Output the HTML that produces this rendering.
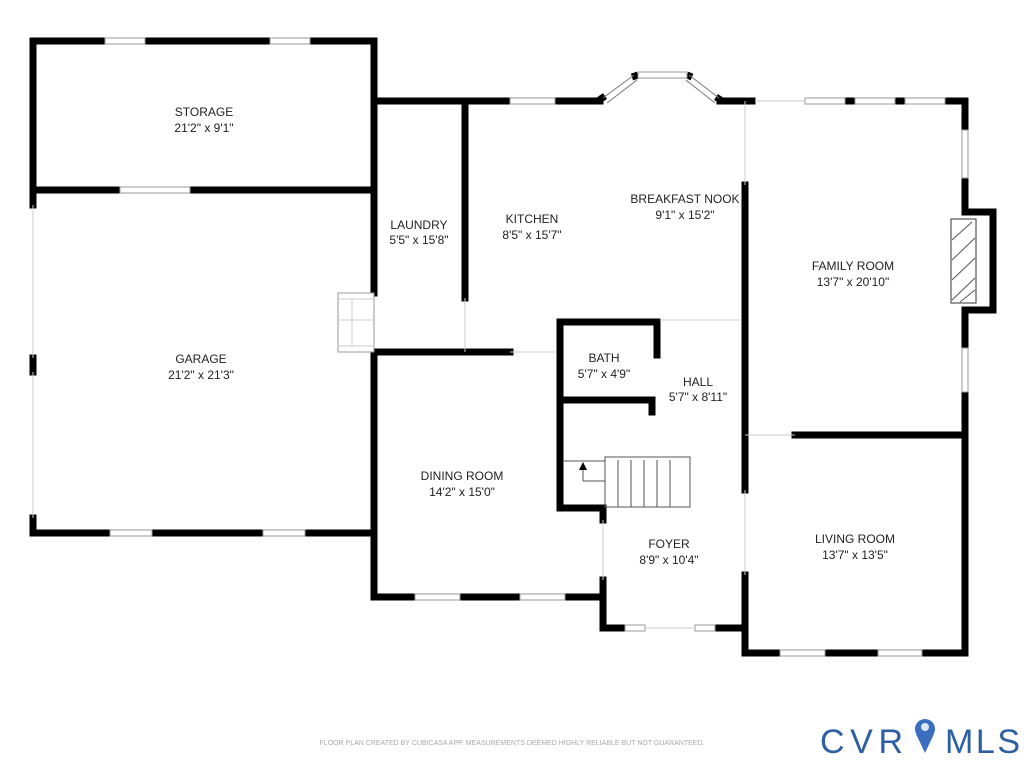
<!DOCTYPE html>
<html><head><meta charset="utf-8"><style>
body{margin:0;background:#fff;width:1024px;height:768px;overflow:hidden}
svg text{font-family:"Liberation Sans",sans-serif;font-size:12px;fill:#222;text-anchor:middle}
</style></head><body>
<svg width="1024" height="768" viewBox="0 0 1024 768">
<g stroke="#000" stroke-width="7" fill="none" stroke-linecap="square">
<path d="M33 190 V41 H105 M145 41 H270 M310 41 H374 V101 M374 101 V190 M33 190 H120 M190 190 H374"/>
<path d="M33 190 V205 M33 358 V372 M33 518 V533 H110 M152 533 H263 M305 533 H374"/>
<path d="M374 190 V293 M374 352 V597 H415 M460 597 H520 M565 597 H603 V628 H625 M715 628 H745"/>
<path d="M374 101 H510 M555 101 H600 M720 101 H752 M947 101 H965 V130 M965 178 V212 M965 310 V348 M965 392 V653 H922 M878 653 H825 M780 653 H745 V575"/>
<path d="M847 101 H853 M897 101 H903"/>
<path d="M965 212 H993 V310 H965"/>
<path d="M465 101 V298 M374 352 H510 M745 185 V435 M745 435 V490 M795 435 H965"/>
<path d="M560 322 V508 H603 V520 M560 322 H657 V355 M560 400 H652 V412 M603 580 V628"/>
</g>
<g stroke="#000" stroke-width="7" stroke-linecap="butt">
<path d="M598 101 L605 96 M632 77 L638 75 M687 75 L692 77 M716 97 L722 101"/>
</g>
<g stroke="#777" stroke-width="1" fill="none">
<path d="M603 98 L634 75 M607 103 L637 80"/>
<path d="M689 75 L719 98 M686 80 L715 103"/>
</g>
<g stroke="#999" stroke-width="1" fill="#fff">
<rect x="105" y="38" width="40" height="6"/><rect x="270" y="38" width="40" height="6"/>
<rect x="120" y="187" width="70" height="6"/>
<rect x="110" y="530" width="42" height="6"/><rect x="263" y="530" width="42" height="6"/>
<rect x="415" y="594" width="45" height="6"/><rect x="520" y="594" width="45" height="6"/>
<rect x="510" y="98" width="45" height="6"/>
<rect x="638" y="72" width="49" height="6"/>
<rect x="805" y="98" width="40" height="6"/><rect x="855" y="98" width="40" height="6"/><rect x="905" y="98" width="40" height="6"/>
<rect x="962" y="130" width="6" height="48"/><rect x="962" y="348" width="6" height="44"/>
<rect x="780" y="650" width="45" height="6"/><rect x="878" y="650" width="44" height="6"/>
<rect x="625" y="625" width="20" height="6"/><rect x="695" y="625" width="20" height="6"/>
<rect x="338" y="293" width="36" height="59"/>
</g>
<g stroke="#ccc" stroke-width="1" fill="none">
<path d="M33 205 V358 M33 372 V518 M510 352 H555 M465 298 V352 M745 101 V185 M745 435 H795 M745 490 V575 M660 320 H740 M755 101 H805 M603 520 V580 M645 628 H695"/>
<path d="M338 299 H374 M338 346 H374 M352 299 V346 M338 320 H374"/>
</g>
<rect x="951" y="219" width="25" height="84" fill="#fff" stroke="#333"/>
<g stroke="#555" stroke-width="1"><path d="M952 240 L972 222 M952 260 L975 238 M952 280 L975 258 M952 300 L975 278 M960 302 L975 290"/></g>
<g stroke="#555" stroke-width="1" fill="none">
<rect x="605" y="457" width="85" height="50"/>
<path d="M618 460V507 M631 460V507 M644 460V507 M657 460V507 M670 460V507 M583 481 V467 M583 481 H605"/>
<path d="M563 461 H605"/>
</g>
<path d="M579 470 L583 462 L587 470Z" fill="#000"/>
<text x="204" y="116">STORAGE</text><text x="204" y="132">21'2" x 9'1"</text>
<text x="201" y="363">GARAGE</text><text x="201" y="379">21'2" x 21'3"</text>
<text x="419" y="229">LAUNDRY</text><text x="419" y="244">5'5" x 15'8"</text>
<text x="532" y="223">KITCHEN</text><text x="532" y="239">8'5" x 15'7"</text>
<text x="685" y="203">BREAKFAST NOOK</text><text x="685" y="219">9'1" x 15'2"</text>
<text x="853" y="270">FAMILY ROOM</text><text x="853" y="286">13'7" x 20'10"</text>
<text x="604" y="362">BATH</text><text x="604" y="378">5'7" x 4'9"</text>
<text x="698" y="386">HALL</text><text x="698" y="401">5'7" x 8'11"</text>
<text x="462" y="480">DINING ROOM</text><text x="462" y="496">14'2" x 15'0"</text>
<text x="669" y="548">FOYER</text><text x="669" y="564">8'9" x 10'4"</text>
<text x="855" y="543">LIVING ROOM</text><text x="855" y="559">13'7" x 13'5"</text>
<text x="512" y="745" style="font-size:7px;fill:#aaa">FLOOR PLAN CREATED BY CUBICASA APP. MEASUREMENTS DEEMED HIGHLY RELIABLE BUT NOT GUARANTEED.</text>
<text x="820" y="753" textLength="83" lengthAdjust="spacing" style="font-size:34px;fill:#2d5fa3;text-anchor:start">CVR</text>
<text x="945" y="753" textLength="75" lengthAdjust="spacing" style="font-size:34px;fill:#2d5fa3;text-anchor:start">MLS</text>
<circle cx="925" cy="729" r="10" fill="#3a6fbf"/><circle cx="925" cy="727" r="4" fill="#dde8f7"/>
<path d="M916 734 L925 753 L934 734Z" fill="#3a6fbf"/>
</svg>
</body></html>
